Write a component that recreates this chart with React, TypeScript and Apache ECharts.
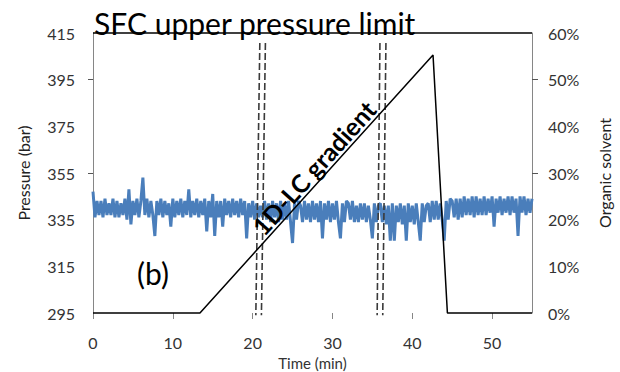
import React, { useEffect, useRef } from "react";
import * as echarts from "echarts";

const TIME_STEP = 0.25; // minutes between pressure samples
const pressure = [
  347, 336, 343, 337, 343, 336, 344, 337, 342, 337, 344, 336, 343, 336, 342, 337,
  344, 335, 348, 333, 343, 337, 344, 336, 343, 353, 337, 344, 336, 343, 337, 328,
  343, 337, 344, 336, 343, 337, 342, 332, 344, 336, 343, 337, 344, 336, 343, 337,
  348, 336, 343, 337, 344, 336, 343, 337, 344, 330, 343, 336, 346, 328, 343, 336,
  343, 332, 344, 337, 343, 336, 344, 337, 343, 336, 344, 337, 343, 327, 342, 336,
  343, 335, 342, 336, 341, 336, 343, 335, 342, 334, 343, 336, 342, 334, 343, 335,
  342, 335, 343, 334, 325, 342, 335, 343, 341, 334, 343, 335, 342, 334, 343, 335,
  342, 334, 343, 327, 342, 335, 343, 334, 342, 335, 343, 334, 327, 342, 334, 343,
  342, 335, 343, 334, 341, 334, 342, 335, 342, 334, 341, 335, 327, 342, 334, 341,
  342, 334, 341, 333, 341, 326, 342, 326, 341, 334, 342, 333, 341, 326, 342, 334,
  341, 333, 342, 334, 326, 342, 334, 341, 342, 334, 343, 335, 343, 335, 342, 335,
  326, 343, 335, 344, 343, 336, 344, 335, 344, 336, 345, 337, 344, 337, 345, 336,
  345, 337, 344, 337, 345, 337, 344, 338, 345, 332, 344, 338, 345, 337, 344, 338,
  345, 337, 345, 338, 344, 328, 345, 338, 345, 337, 344, 338, 344,
];

// gradient (organic solvent %) breakpoints
const gradientTime = [0, 13.4, 42.6, 44.4, 55];
const gradientSolvent = [0, 0, 55.3, 0, 0];

// SFC upper pressure limit
const limitPressure = 415;
const limitTime = [0, 55];

// dashed markers: [time at top, time at bottom]
const dashedTop = [20.9, 21.6, 35.95, 36.7];
const dashedBottom = [20.4, 21.1, 35.6, 36.3];
const dashedPressureTop = 410.7;
const dashedPressureBottom = 294;

const xTicks = [0, 10, 20, 30, 40, 50];
const leftTicks = [355, 395];
const rightTicks = [30, 50];

const FONT = "Lato";

export default function App() {
  const ref = useRef<HTMLDivElement>(null);
  useEffect(() => {
    if (!ref.current) return;
    const chart = echarts.init(ref.current, null, { renderer: "svg" });
    const pressureData = pressure.map((p, i) => [i * TIME_STEP, p]);
    const gradientData = gradientTime.map((t, i) => [t, gradientSolvent[i]]);
    const dashedSeries = dashedTop.map((t, i) => ({
      type: "line",
      xAxisIndex: 0,
      yAxisIndex: 0,
      data: [
        [t, dashedPressureTop],
        [dashedBottom[i], dashedPressureBottom],
      ],
      showSymbol: false,
      clip: false,
      silent: true,
      z: 4,
      lineStyle: { color: "#3a3a3a", width: 1.6, type: [7, 3] },
    }));
    const grayAxis = { lineStyle: { color: "#868686", width: 1 } };
    chart.setOption({
      animation: false,
      grid: {
        left: 93,
        right: 88,
        top: 33,
        bottom: 59,
        containLabel: false,
        outerBoundsMode: "none",
      },
      xAxis: {
        type: "value",
        min: 0,
        max: 55,
        interval: 10,
        offset: 5,
        axisLine: { show: false },
        axisTick: {
          show: true,
          length: 6,
          customValues: xTicks,
          lineStyle: { color: "#868686" },
        },
        axisLabel: {
          customValues: xTicks,
          margin: 17,
          fontFamily: FONT,
          fontSize: 16,
          lineHeight: 15,
          color: "#333",
        },
        splitLine: { show: false },
        name: "Time (min)",
        nameLocation: "middle",
        nameGap: 38,
        nameMoveOverlap: false,
        nameTextStyle: { fontFamily: FONT, fontSize: 15, lineHeight: 14, color: "#333" },
      },
      yAxis: [
        {
          type: "value",
          position: "left",
          min: 295,
          max: 415,
          interval: 20,
          axisLine: { show: true, ...grayAxis },
          axisTick: {
            show: true,
            length: 5,
            inside: false,
            customValues: leftTicks,
            lineStyle: { color: "#555" },
          },
          axisLabel: {
            margin: 18,
            fontFamily: FONT,
            fontSize: 16,
            color: "#333",
          },
          splitLine: { show: false },
          name: "Pressure (bar)",
          nameLocation: "middle",
          nameGap: 62,
          nameMoveOverlap: false,
          nameRotate: 90,
          nameTextStyle: { fontFamily: FONT, fontSize: 16, color: "#222" },
        },
        {
          type: "value",
          position: "right",
          min: 0,
          max: 60,
          interval: 10,
          axisLine: { show: true, ...grayAxis },
          axisTick: {
            show: true,
            length: 6,
            customValues: rightTicks,
            lineStyle: { color: "#555" },
          },
          axisLabel: {
            margin: 16,
            formatter: "{value}%",
            fontFamily: FONT,
            fontSize: 16,
            color: "#333",
          },
          splitLine: { show: false },
          name: "Organic solvent",
          nameLocation: "middle",
          nameGap: 64,
          nameMoveOverlap: false,
          nameRotate: 90,
          nameTextStyle: { fontFamily: FONT, fontSize: 16, color: "#222" },
        },
      ],
      series: [
        {
          type: "line",
          xAxisIndex: 0,
          yAxisIndex: 0,
          data: pressureData,
          showSymbol: false,
          z: 2,
          lineStyle: { color: "#4a7ebb", width: 3 },
        },
        {
          type: "line",
          xAxisIndex: 0,
          yAxisIndex: 1,
          data: gradientData,
          showSymbol: false,
          clip: false,
          z: 5,
          lineStyle: { color: "#000", width: 1.5 },
        },
        {
          type: "line",
          xAxisIndex: 0,
          yAxisIndex: 0,
          data: limitTime.map((t) => [t, limitPressure]),
          showSymbol: false,
          clip: false,
          z: 5,
          lineStyle: { color: "#000", width: 1.5 },
        },
        ...dashedSeries,
      ],
      graphic: [
        {
          type: "text",
          x: 94,
          y: 23,
          z: 10,
          style: {
            text: "SFC upper pressure limit",
            fontFamily: FONT,
            fontSize: 30,
            fill: "#000",
            align: "left",
            verticalAlign: "middle",
          },
        },
        {
          type: "text",
          x: 153,
          y: 273,
          z: 10,
          style: {
            text: "(b)",
            fontFamily: FONT,
            fontSize: 30,
            fill: "#000",
            align: "center",
            verticalAlign: "middle",
          },
        },
        {
          type: "text",
          x: 323,
          y: 176,
          rotation: (48 * Math.PI) / 180,
          z: 10,
          style: {
            text: "1D-LC gradient",
            fontFamily: FONT,
            fontWeight: "bold",
            fontSize: 25,
            fill: "#000",
            align: "center",
            verticalAlign: "bottom",
          },
        },
      ],
    });
    return () => chart.dispose();
  }, []);
  return (
    <div
      ref={ref}
      style={{ position: "absolute", left: 0, top: 0, width: 620, height: 372 }}
    />
  );
}
